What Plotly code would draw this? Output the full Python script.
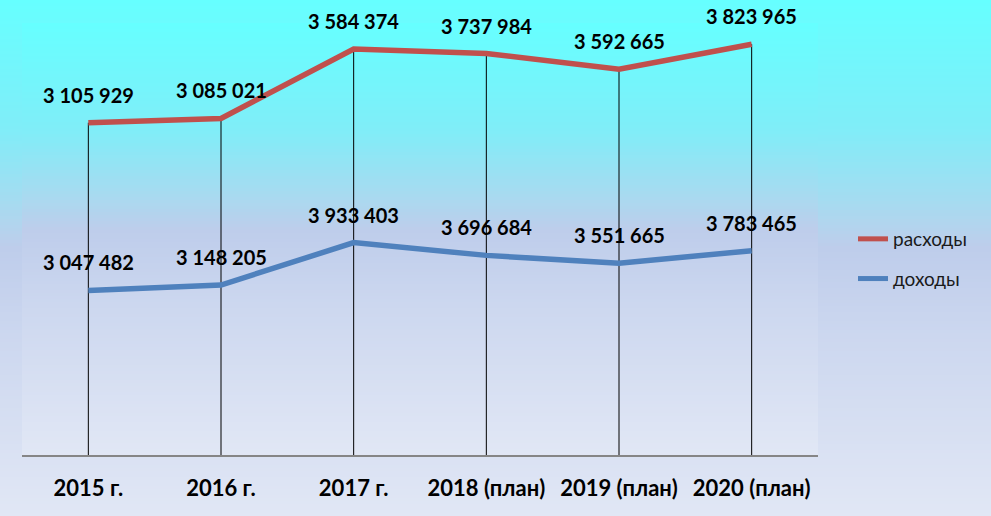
import plotly.graph_objects as go

categories = ["2015 г.", "2016 г.", "2017 г.", "2018 (план)", "2019 (план)", "2020 (план)"]
raskhody = [3105929, 3085021, 3584374, 3737984, 3592665, 3823965]
dokhody = [3047482, 3148205, 3933403, 3696684, 3551665, 3783465]

RED = "#C0504D"
BLUE = "#4F81BD"
FONT = "Lato"

W, H = 991, 516
L, R, T, B = 22, 173, 23, 61
pw, ph = W - L - R, H - T - B

def fmt(v):
    return f"{v:,}".replace(",", " ")

totals = [a + b for a, b in zip(dokhody, raskhody)]

fig = go.Figure()

# drop lines from top series to axis
dx, dy = [], []
for c, t in zip(categories, totals):
    dx += [c, c, None]
    dy += [0, t, None]
fig.add_trace(go.Scatter(x=dx, y=dy, mode="lines", line=dict(color="black", width=1),
                         showlegend=False, hoverinfo="skip"))

fig.add_trace(go.Scatter(x=categories, y=dokhody, name="доходы", mode="lines",
                         stackgroup="s", fill="none", legendrank=2, legendgroup="b",
                         line=dict(color=BLUE, width=5.5)))
fig.add_trace(go.Scatter(x=categories, y=raskhody, name="расходы", mode="lines",
                         stackgroup="s", fill="none", legendrank=1, legendgroup="a",
                         line=dict(color=RED, width=5.5)))

for c, v, y in zip(categories, dokhody, dokhody):
    fig.add_annotation(x=c, y=y, text=fmt(v), showarrow=False, yshift=28,
                       font=dict(family=FONT, size=20, color="black", weight="bold"))
for c, v, y in zip(categories, raskhody, totals):
    fig.add_annotation(x=c, y=y, text=fmt(v), showarrow=False, yshift=28,
                       font=dict(family=FONT, size=20, color="black", weight="bold"))

# background gradients
stops = [(0.0, (102, 255, 255)), (0.25, (128, 237, 248)), (0.40, (168, 218, 240)),
         (0.48, (190, 205, 235)), (0.65, (204, 215, 239)), (1.0, (225, 231, 245))]

def col(t):
    for (t0, c0), (t1, c1) in zip(stops[:-1], stops[1:]):
        if t0 <= t <= t1:
            f = (t - t0) / (t1 - t0) if t1 > t0 else 0
            return "rgb(%d,%d,%d)" % tuple(round(a + (b - a) * f) for a, b in zip(c0, c1))
    return "rgb(%d,%d,%d)" % stops[-1][1]

shapes = []
def grad(x0px, x1px, y0px, y1px, n):
    for i in range(n):
        ya = y0px + (y1px - y0px) * i / n
        yb = y0px + (y1px - y0px) * (i + 1) / n + 0.6
        t = (i + 0.5) / n
        shapes.append(dict(type="rect", xref="paper", yref="paper", layer="below",
                           x0=(x0px - L) / pw, x1=(x1px - L) / pw,
                           y0=(T + ph - ya) / ph, y1=(T + ph - yb) / ph,
                           fillcolor=col(t), line=dict(width=0)))
grad(0, W, 0, H, 172)
grad(L, L + pw, T, T + ph, 144)

fig.update_layout(
    width=W, height=H,
    margin=dict(l=L, r=R, t=T, b=B),
    paper_bgcolor="#e0e6f4", plot_bgcolor="rgba(0,0,0,0)",
    shapes=shapes,
    showlegend=True,
    legend=dict(x=(853 - L) / pw, xanchor="left", y=(T + ph - 220) / ph, yanchor="top",
                traceorder="grouped", tracegroupgap=12, itemsizing="constant",
                font=dict(family=FONT, size=19, color="#1a1a1a"),
                bgcolor="rgba(0,0,0,0)"),
    xaxis=dict(type="category", range=[-0.5, len(categories) - 0.5],
               showgrid=False, zeroline=False, showline=True,
               linecolor="#868686", linewidth=1.5, ticks="", ticklabelstandoff=13,
               tickfont=dict(family=FONT, size=22, color="black", weight="bold"),
               fixedrange=True),
    yaxis=dict(range=[0, 8000000], visible=False, showgrid=False, fixedrange=True),
    font=dict(family=FONT),
)

fig.write_html("out.html")
